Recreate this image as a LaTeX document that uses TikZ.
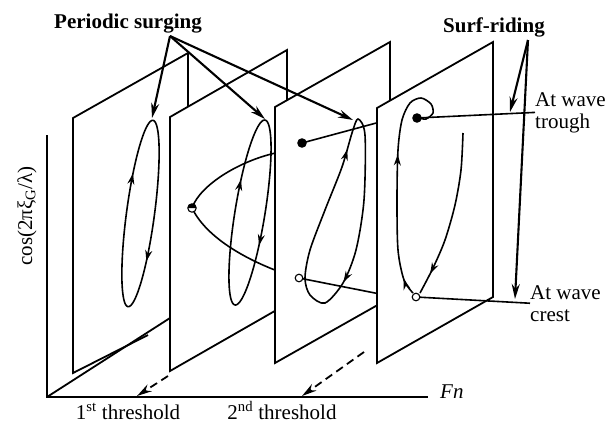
\documentclass[tikz,border=0pt]{standalone}
\usepackage{fontspec}
\setmainfont{Liberation Serif}
\usetikzlibrary{arrows.meta, decorations.markings}

\begin{document}
\begin{tikzpicture}[x=1pt, y=-1pt, >={Stealth[length=15pt, width=8pt]},
    plane/.style={line width=1.8pt, fill=white},
    orbit/.style={line width=1.6pt},
    pointer/.style={line width=2.1pt, ->},
    flow/.style={postaction={decorate}, decoration={markings,
      mark=at position #1 with {\arrow{Stealth[length=11pt, width=7pt]}}}},
    flows/.style 2 args={postaction={decorate}, decoration={markings,
      mark=at position #1 with {\arrow{Stealth[length=11pt, width=7pt]}},
      mark=at position #2 with {\arrow{Stealth[length=11pt, width=7pt]}}}},
    txt/.style={font=\fontsize{21}{22}\selectfont, inner sep=0pt}]
  \useasboundingbox (0,0) rectangle (616,424);

  % Plane 1 (below the first threshold)
  \fill[white] (73,373) -- (73,118) -- (188,53) -- (188,308) -- cycle;
  \draw[line width=1.8pt] (148,335) -- (73,373) -- (73,118) -- (188,53) -- (188,308);
  \draw[orbit, flows={0.37}{0.85}] plot[domain=0:360, samples=90, smooth]
    ({140.5 + 94*0.1325*cos(\x) + 14*0.991*sin(\x)}, {213.5 - 94*0.991*cos(\x) + 14*0.1325*sin(\x)});
  \coordinate (top1) at (152,118);

  % Plane 2
  \draw[plane] (170,371) -- (170,117) -- (287,50) -- (287,304) -- cycle;
  \draw[orbit, flows={0.33}{0.83}] plot[domain=0:360, samples=90, smooth]
    ({250 + 93.7*0.160*cos(\x) + 15*0.987*sin(\x)}, {212.5 - 93.7*0.987*cos(\x) + 15*0.160*sin(\x)});
  \coordinate (top2) at (265,119);
  \coordinate (split) at (192,208);
  \draw[orbit] (split) .. controls (200,185) and (240,160) .. (280,152);
  \draw[orbit] (split) .. controls (205,235) and (240,257) .. (280,272);
  \draw[line width=1.1pt, fill=white] (split) circle (4.2);
  \fill (split) ++(-4.2,0) arc[start angle=180, end angle=360, radius=4.2] -- cycle;

  % Plane 3
  \draw[plane] (275,363) -- (275,107) -- (390,42) -- (390,298) -- cycle;
  \draw[orbit, flows={0.375}{0.873}] plot[smooth cycle] coordinates {(358,119) (365,135)
    (364,200) (356,250) (343,283) (325,303) (310,295) (305,278) (310,250) (325,210)
    (342,167) (352,133)};
  \coordinate (top3) at (353,120);
  \coordinate (hiA) at (302,143);
  \coordinate (loA) at (299,278);
  \draw[orbit] (hiA) -- (380,122);
  \draw[orbit] (loA) -- (380,294);
  \fill (hiA) circle (4.8);
  \draw[line width=1.1pt, fill=white] (loA) circle (3.8);

  % Plane 4 (above the second threshold)
  \draw[plane] (377,363) -- (377,108) -- (493,42) -- (493,297) -- cycle;
  \coordinate (hiB) at (417,118);
  \coordinate (loB) at (416,297);
  \draw[orbit, flows={0.07}{0.58}] plot[smooth] coordinates {(413,293) (404,280) (398,250)
    (397,200) (398,150) (402,120) (410,103) (421,98) (431,104) (433,113) (426,119) (420,118)};
  \draw[orbit, flow=0.87] plot[smooth] coordinates {(463,133) (461,170) (455,205)
    (445,240) (433,268) (420,293)};

  % Labels at the right
  \node[txt, anchor=north west, align=left] (trough) at (535,92) {At wave\\trough};
  \node[txt, anchor=north west, align=left] (crest) at (530,285) {At wave\\crest};
  \draw[orbit] (hiB) -- (trough.west);
  \draw[orbit] (loB) -- (crest.west);
  \fill (hiB) circle (4.8);
  \draw[line width=1.1pt, fill=white] (loB) circle (3.8);

  % Axes
  \coordinate (O) at (47,397);
  \draw[line width=1.8pt] (47,135) -- (O) -- (428,397);
  \draw[line width=1.8pt] (O) -- (170,318);
  \node[txt, anchor=base west] (fn) at (440,398) {\textit{Fn}};
  \node[txt, rotate=90] (ylab) at (27,216) {cos(2πξ\textsubscript{G}/λ)};

  % Thresholds
  \coordinate (cut1) at (168,376);
  \coordinate (mark1) at (137,396);
  \coordinate (cut2) at (364,352);
  \coordinate (mark2) at (302,396);
  \draw[pointer, line width=1.8pt, dash pattern=on 8pt off 5pt] (cut1) -- (mark1);
  \draw[pointer, line width=1.8pt, dash pattern=on 8pt off 5pt] (cut2) -- (mark2);
  \node[txt, anchor=base] (thr1) at (128,419) {1\textsuperscript{st} threshold};
  \node[txt, anchor=base] (thr2) at (282,419) {2\textsuperscript{nd} threshold};

  % Periodic surging
  \node[txt] (surging) at (128,24) {\bfseries Periodic surging};
  \coordinate (fork1) at (170,36);
  \draw[pointer] (fork1) -- (top1);
  \draw[pointer] (fork1) -- (top2);
  \draw[pointer] (fork1) -- (top3);

  % Surf-riding
  \node[txt] (surfing) at (494,27) {\bfseries Surf-riding};
  \coordinate (fork2) at (528,40);
  \draw[pointer] (fork2) -- (510,112);
  \draw[pointer] (fork2) -- (515,299);
\end{tikzpicture}
\end{document}
